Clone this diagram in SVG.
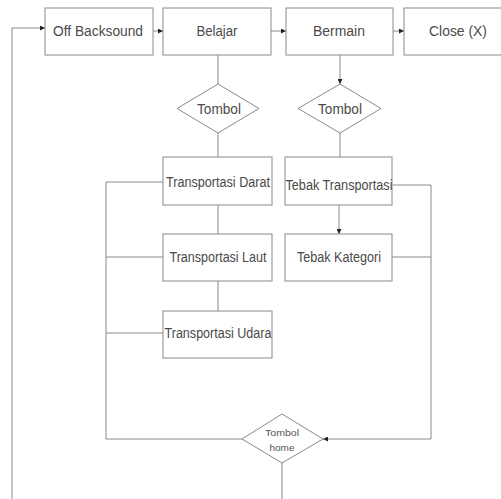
<svg xmlns="http://www.w3.org/2000/svg" width="501" height="499" viewBox="0 0 501 499">
<style>
.box{fill:#fff;stroke:#8a8a8a;stroke-width:1}
.lbl{font-family:"Liberation Sans",Arial,sans-serif;font-size:14px;fill:#4a4a4a;text-anchor:middle}
.sm{font-family:"Liberation Sans",Arial,sans-serif;font-size:9.5px;fill:#555;text-anchor:middle}
.ln{fill:none;stroke:#8a8a8a;stroke-width:1}
</style>
<defs>
<marker id="ah" markerWidth="5" markerHeight="5" refX="5" refY="2.5" orient="auto" markerUnits="userSpaceOnUse">
<path d="M0,0 L5,2.5 L0,5 Z" fill="#222"/>
</marker>
</defs>
<rect width="501" height="499" fill="#fff"/>
<g id="connectors">
<path class="ln" d="M12,499 V28 H45" marker-end="url(#ah)"/>
<path class="ln" d="M153,31 H163" marker-end="url(#ah)"/>
<path class="ln" d="M271,31 H286" marker-end="url(#ah)"/>
<path class="ln" d="M393,31 H404" marker-end="url(#ah)"/>
<path class="ln" d="M218,55 V84"/>
<path class="ln" d="M340,55 V84" marker-end="url(#ah)"/>
<path class="ln" d="M218,133 V157"/>
<path class="ln" d="M340,133 V157"/>
<path class="ln" d="M218,205 V234"/>
<path class="ln" d="M218,281 V311"/>
<path class="ln" d="M339,205 V234" marker-end="url(#ah)"/>
<path class="ln" d="M163,182 H106 V439 H242"/>
<path class="ln" d="M163,257 H106"/>
<path class="ln" d="M163,333 H106"/>
<path class="ln" d="M393,185 H431 V439 H323" marker-end="url(#ah)"/>
<path class="ln" d="M392,257 H431"/>
<path class="ln" d="M282,463 V499"/>
</g>
<g id="off-backsound"><rect class="box" x="45" y="8" width="108" height="47"/><text class="lbl" x="98" y="36" textLength="90" lengthAdjust="spacingAndGlyphs">Off Backsound</text></g>
<g id="belajar"><rect class="box" x="163" y="8" width="108" height="47"/><text class="lbl" x="217" y="36" textLength="41" lengthAdjust="spacingAndGlyphs">Belajar</text></g>
<g id="bermain"><rect class="box" x="286" y="8" width="107" height="47"/><text class="lbl" x="339" y="36" textLength="52" lengthAdjust="spacingAndGlyphs">Bermain</text></g>
<g id="close"><rect class="box" x="404" y="8" width="105" height="47"/><text class="lbl" x="458" y="36" textLength="58" lengthAdjust="spacingAndGlyphs">Close (X)</text></g>
<g id="tombol-belajar"><polygon class="box" points="218,84 259,108.5 218,133 177,108.5"/><text class="lbl" x="219" y="113.5" textLength="44" lengthAdjust="spacingAndGlyphs">Tombol</text></g>
<g id="tombol-bermain"><polygon class="box" points="340,84 381,108.5 340,133 298,108.5"/><text class="lbl" x="340" y="113.5" textLength="44" lengthAdjust="spacingAndGlyphs">Tombol</text></g>
<g id="transportasi-darat"><rect class="box" x="163" y="157" width="109" height="48"/><text class="lbl" x="218" y="187" textLength="104" lengthAdjust="spacingAndGlyphs">Transportasi Darat</text></g>
<g id="transportasi-laut"><rect class="box" x="163" y="234" width="109" height="47"/><text class="lbl" x="218" y="262" textLength="97" lengthAdjust="spacingAndGlyphs">Transportasi Laut</text></g>
<g id="transportasi-udara"><rect class="box" x="163" y="311" width="109" height="47"/><text class="lbl" x="218" y="338" textLength="107" lengthAdjust="spacingAndGlyphs">Transportasi Udara</text></g>
<g id="tebak-transportasi"><rect class="box" x="285" y="157" width="107" height="48"/><text class="lbl" x="339" y="190" textLength="107" lengthAdjust="spacingAndGlyphs">Tebak Transportasi</text></g>
<g id="tebak-kategori"><rect class="box" x="285" y="234" width="107" height="47"/><text class="lbl" x="339" y="262" textLength="84" lengthAdjust="spacingAndGlyphs">Tebak Kategori</text></g>
<g id="tombol-home"><polygon class="box" points="282,414 323,439 282,463 242,439"/><text class="sm" x="282" y="436" textLength="34" lengthAdjust="spacingAndGlyphs">Tombol</text><text class="sm" x="282" y="451" textLength="25" lengthAdjust="spacingAndGlyphs">home</text></g>
</svg>
